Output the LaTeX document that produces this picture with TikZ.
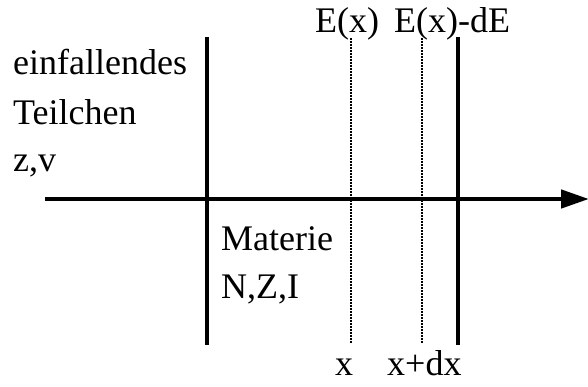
\documentclass[tikz,border=0pt]{standalone}
\usepackage{fontspec}
\setmainfont{Liberation Serif}
\usetikzlibrary{arrows.meta}

\tikzset{
  lbl/.style={anchor=base west,inner sep=0pt,font=\fontsize{36}{40}\selectfont},
  wall/.style={line width=4.5pt},
  slice/.style={line width=1.5pt,dash pattern=on 2pt off 1pt}
}

\begin{document}
\begin{tikzpicture}[x=1pt,y=-1pt]
\useasboundingbox (0,0) rectangle (588,387);

\draw[line width=4.5pt,-{Triangle[length=28pt,width=18pt]}] (45,199) -- (589,199);

\draw[wall] (207,37) -- (207,345);
\draw[wall] (458,37) -- (458,345);
\draw[slice] (351,38) -- (351,343);
\draw[slice] (422,38) -- (422,343);

\node[lbl] (einf) at (13,75) {einfallendes};
\node[lbl] (teil) at (13,125) {Teilchen};
\node[lbl] (zv) at (13,172) {z,v};

\node[lbl] (ex) at (315,33) {E(x)};
\node[lbl] (exde) at (394,33) {E(x)-dE};

\node[lbl] (mat) at (221,250) {Materie};
\node[lbl] (nzi) at (221,298) {N,Z,I};

\node[lbl] (x) at (335,375) {x};
\node[lbl] (xdx) at (387,375) {x+dx};
\end{tikzpicture}
\end{document}
